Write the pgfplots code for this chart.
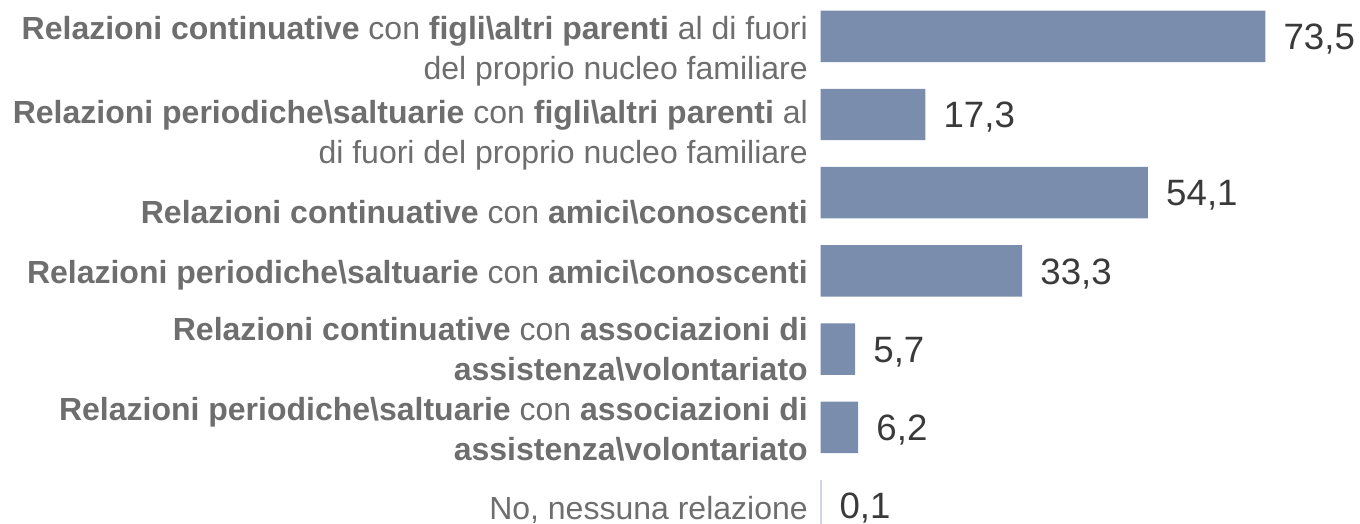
\documentclass[border=0pt]{standalone}
\usepackage{pgfplots}
\pgfplotsset{compat=1.18}
\usepackage{fontspec}
\setmainfont{Liberation Sans}
\definecolor{barc}{HTML}{7A8DAD}
\definecolor{labc}{HTML}{6E6E6E}
\definecolor{valc}{HTML}{3A3A3A}
\newcommand{\lab}[2]{\raisebox{#1}[0pt][0pt]{\begin{tabular}{@{}r@{}}#2\end{tabular}}}
\newcommand{\bs}{\textbackslash}
\begin{document}
\begin{tikzpicture}
\useasboundingbox (-615.5pt,0pt) rectangle (404.5pt,-393pt);
\begin{axis}[
  at={(0pt,0pt)}, anchor=north west,
  x=4.5375pt, y=58.65pt,
  xmin=0, xmax=89.14, ymin=-0.4642, ymax=6.2366,
  y dir=reverse,
  axis x line=none,
  axis y line=left,
  y axis line style={draw=none},
  major tick length=0pt,
  xtick=\empty,
  ytick={0,1,2,3,4,5,6},
  yticklabels={
    {\lab{-17.25pt}{\textbf{Relazioni continuative} con \textbf{figli\bs altri parenti} al di fuori\\del proprio nucleo familiare}},
    {\lab{-21.75pt}{\textbf{Relazioni periodiche\bs saltuarie} con \textbf{figli\bs altri parenti} al\\di fuori del proprio nucleo familiare}},
    {\lab{-23.25pt}{\textbf{Relazioni continuative} con \textbf{amici\bs conoscenti}}},
    {\lab{-9.75pt}{\textbf{Relazioni periodiche\bs saltuarie} con \textbf{amici\bs conoscenti}}},
    {\lab{-9pt}{\textbf{Relazioni continuative} con \textbf{associazioni di}\\\textbf{assistenza\bs volontariato}}},
    {\lab{-10pt}{\textbf{Relazioni periodiche\bs saltuarie} con \textbf{associazioni di}\\\textbf{assistenza\bs volontariato}}},
    {\lab{-10.5pt}{No, nessuna relazione}}
  },
  yticklabel style={font=\fontsize{24}{30}\selectfont, text=labc, anchor=east, inner sep=0pt, xshift=-9.5pt},
  point meta=explicit,
  nodes near coords,
  nodes near coords align={horizontal},
  every node near coord/.append style={font=\fontsize{27.5}{30}\selectfont, text=valc, anchor=west, inner sep=0pt, xshift=13.5pt, yshift=-2pt,
    /pgf/number format/assume math mode=true},
  /pgf/number format/.cd, use comma, fixed, precision=1, fixed zerofill,
]
\addplot[xbar, fill=barc, draw=none, bar width=38.6pt] coordinates {
  (73.5,0) [73.5] (17.3,1) [17.3] (54.1,2) [54.1] (33.3,3) [33.3] (5.7,4) [5.7] (6.2,5) [6.2] (0.1,6) [0.1]
};
\end{axis}
\end{tikzpicture}
\end{document}
